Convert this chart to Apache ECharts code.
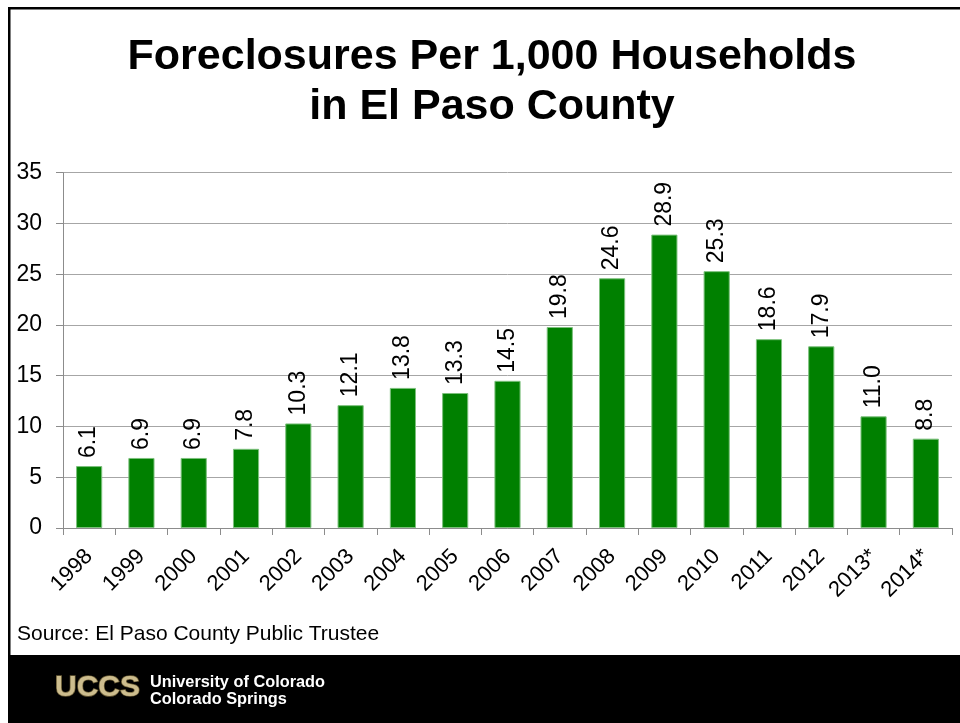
<!DOCTYPE html>
<html>
<head>
<meta charset="utf-8">
<script src="https://cdn.jsdelivr.net/npm/echarts@6/dist/echarts.min.js"></script>
<style>
  html, body { margin: 0; padding: 0; background: #fff; }
  #chart { width: 960px; height: 723px; }
</style>
</head>
<body>
<div id="chart"></div>
<script>
// Foreclosures per 1,000 households, El Paso County
const years = ['1998', '1999', '2000', '2001', '2002', '2003', '2004', '2005', '2006',
  '2007', '2008', '2009', '2010', '2011', '2012', '2013*', '2014*'];
const foreclosureRates = [6.1, 6.9, 6.9, 7.8, 10.3, 12.1, 13.8, 13.3, 14.5,
  19.8, 24.6, 28.9, 25.3, 18.6, 17.9, 11.0, 8.8];
const yTicks = [0, 5, 10, 15, 20, 25, 30, 35];

const FONT = '"Liberation Sans", Arial, Helvetica, sans-serif';

const chart = echarts.init(document.getElementById('chart'), null, { renderer: 'canvas' });

chart.setOption({
  backgroundColor: '#ffffff',
  animation: false,
  title: {
    text: 'Foreclosures Per 1,000 Households\nin El Paso County',
    left: 487,
    top: 27,
    textAlign: 'center',
    textStyle: {
      fontFamily: FONT,
      fontSize: 43,
      fontWeight: 'bold',
      color: '#000',
      lineHeight: 50
    }
  },
  grid: {
    left: 63,
    right: 8,
    top: 172.7,
    bottom: 195,
    containLabel: false
  },
  xAxis: {
    type: 'category',
    data: years,
    axisLine: { show: true, lineStyle: { color: '#8c8c8c', width: 1 } },
    axisTick: { show: true, alignWithLabel: false, length: 7, lineStyle: { color: '#8c8c8c' } },
    axisLabel: {
      rotate: 45,
      interval: 0,
      margin: 25,
      fontFamily: FONT,
      fontSize: 22,
      color: '#000'
    },
    splitLine: { show: false }
  },
  yAxis: {
    type: 'value',
    min: yTicks[0],
    max: yTicks[yTicks.length - 1],
    interval: yTicks[1] - yTicks[0],
    axisLine: { show: true, lineStyle: { color: '#8c8c8c', width: 1 } },
    axisTick: { show: true, length: 7, lineStyle: { color: '#8c8c8c' } },
    axisLabel: {
      margin: 21,
      fontFamily: FONT,
      fontSize: 23,
      color: '#000'
    },
    splitLine: { show: true, lineStyle: { color: '#a6a6a6', width: 1 } }
  },
  series: [{
    type: 'bar',
    data: foreclosureRates,
    barWidth: '50%',
    itemStyle: {
      color: '#008000',
      borderColor: '#7cc07c',
      borderWidth: 1
    },
    label: {
      show: true,
      position: 'top',
      rotate: 90,
      align: 'left',
      verticalAlign: 'middle',
      distance: 8,
      fontFamily: FONT,
      fontSize: 23,
      color: '#000',
      formatter: (p) => p.value.toFixed(1)
    }
  }],
  graphic: [
    // frame lines
    { type: 'rect', shape: { x: 8, y: 7, width: 952, height: 2.5 }, style: { fill: '#000' }, silent: true },
    { type: 'rect', shape: { x: 8, y: 7, width: 2.5, height: 650 }, style: { fill: '#000' }, silent: true },
    // source note
    {
      type: 'text', left: 17, top: 624,
      style: { text: 'Source: El Paso County Public Trustee', font: '21px ' + FONT, fill: '#000' }
    },
    // footer band
    { type: 'rect', shape: { x: 8, y: 655, width: 952, height: 68 }, style: { fill: '#000' }, silent: true },
    {
      type: 'text', x: 55, y: 688,
      style: {
        text: 'UCCS', font: 'bold 30px ' + FONT, fill: '#cdbd8e',
        stroke: '#6b5d36', lineWidth: 1.5,
        verticalAlign: 'middle', align: 'left'
      }
    },
    {
      type: 'text', x: 150, y: 683, scaleX: 1.02,
      style: {
        text: 'University of Colorado', font: 'bold 16px ' + FONT, fill: '#fff',
        verticalAlign: 'middle', align: 'left'
      }
    },
    {
      type: 'text', x: 150, y: 700, scaleX: 1.02,
      style: {
        text: 'Colorado Springs', font: 'bold 16px ' + FONT, fill: '#fff',
        verticalAlign: 'middle', align: 'left'
      }
    }
  ]
});
</script>
</body>
</html>
